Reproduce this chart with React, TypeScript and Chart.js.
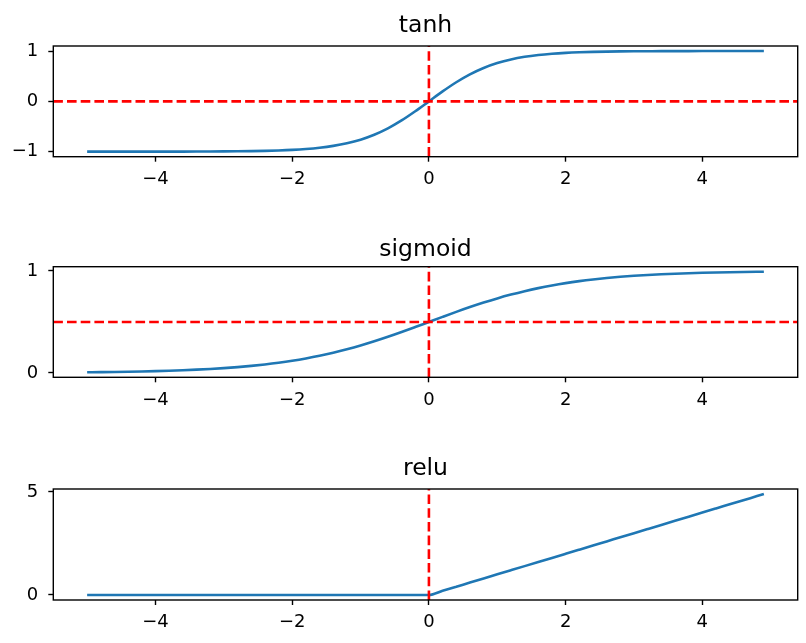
import React, { useEffect, useRef } from "react";
import { Chart, registerables } from "chart.js";

Chart.register(...registerables);

// ---------- data ----------
const xValues = [
  -5, -4.8, -4.6, -4.4, -4.2, -4, -3.8, -3.6, -3.4, -3.2, -3, -2.8, -2.6, -2.4, -2.2, -2, -1.8,
  -1.6, -1.4, -1.2, -1, -0.8, -0.6, -0.4, -0.2, 0, 0.2, 0.4, 0.6, 0.8, 1, 1.2, 1.4, 1.6, 1.8, 2,
  2.2, 2.4, 2.6, 2.8, 3, 3.2, 3.4, 3.6, 3.8, 4, 4.2, 4.4, 4.6, 4.8, 4.9,
];

const tanhValues = [
  -0.9999, -0.9999, -0.9998, -0.9997, -0.9996, -0.9993, -0.999, -0.9985, -0.9978, -0.9967,
  -0.9951, -0.9926, -0.989, -0.9837, -0.9757, -0.964, -0.9468, -0.9217, -0.8854, -0.8337,
  -0.7616, -0.664, -0.537, -0.3799, -0.1974, 0, 0.1974, 0.3799, 0.537, 0.664, 0.7616, 0.8337,
  0.8854, 0.9217, 0.9468, 0.964, 0.9757, 0.9837, 0.989, 0.9926, 0.9951, 0.9967, 0.9978, 0.9985,
  0.999, 0.9993, 0.9996, 0.9997, 0.9998, 0.9999, 0.9999,
];

const sigmoidValues = [
  0.0067, 0.0082, 0.0099, 0.0121, 0.0148, 0.018, 0.0219, 0.0266, 0.0323, 0.0392, 0.0474, 0.0573,
  0.0691, 0.0832, 0.0998, 0.1192, 0.1419, 0.168, 0.1978, 0.2315, 0.2689, 0.31, 0.3543, 0.4013,
  0.4502, 0.5, 0.5498, 0.5987, 0.6457, 0.69, 0.7311, 0.7685, 0.8022, 0.832, 0.8581, 0.8808,
  0.9002, 0.9168, 0.9309, 0.9427, 0.9526, 0.9608, 0.9677, 0.9734, 0.9781, 0.982, 0.9852, 0.9879,
  0.9901, 0.9918, 0.9926,
];

const reluValues = [
  0, 0, 0, 0, 0, 0, 0, 0, 0, 0, 0, 0, 0, 0, 0, 0, 0, 0, 0, 0, 0, 0, 0, 0, 0, 0, 0.2, 0.4, 0.6,
  0.8, 1, 1.2, 1.4, 1.6, 1.8, 2, 2.2, 2.4, 2.6, 2.8, 3, 3.2, 3.4, 3.6, 3.8, 4, 4.2, 4.4, 4.6, 4.8,
  4.9,
];

const xTicks = [-4, -2, 0, 2, 4];
const tanhYTicks = [-1, 0, 1];
const sigmoidYTicks = [0, 1];
const reluYTicks = [0, 5];

const titles = ["tanh", "sigmoid", "relu"];

// ---------- styling / layout ----------
const W = 806;
const FONT = '"DejaVu Sans", sans-serif';
const BLUE = "#1f77b4";
const LW = 2.6;
const FRAME_W = 1.4;

const fmt = (v: number) => (v < 0 ? "\u2212" + Math.abs(v) : String(v));

type PanelProps = {
  title: string;
  ys: number[];
  yTicks: number[];
  yMin: number;
  yMax: number;
  hLine: number | null;
  top: number;
  height: number;
  areaTop: number;
  areaBottom: number;
  titleOffset: number;
};

function Panel(p: PanelProps) {
  const ref = useRef<HTMLCanvasElement | null>(null);
  useEffect(() => {
    const canvas = ref.current;
    if (!canvas) return;
    const areaLeft = 53.3;
    const areaRight = 797.7;

    const overlay = {
      id: "overlay",
      afterDatasetsDraw(chart: any) {
        const { ctx, chartArea, scales } = chart;
        ctx.save();
        ctx.strokeStyle = "#ff0000";
        ctx.lineWidth = LW;
        ctx.lineCap = "butt";
        ctx.setLineDash([9.6, 4.1]);
        if (p.hLine !== null) {
          const y = scales.y.getPixelForValue(p.hLine);
          ctx.beginPath();
          ctx.moveTo(chartArea.left, y);
          ctx.lineTo(chartArea.right, y);
          ctx.stroke();
        }
        const x = scales.x.getPixelForValue(0);
        ctx.beginPath();
        ctx.moveTo(x, chartArea.bottom);
        ctx.lineTo(x, chartArea.top);
        ctx.stroke();
        ctx.restore();
      },
      afterDraw(chart: any) {
        const { ctx, chartArea } = chart;
        ctx.save();
        ctx.strokeStyle = "#000";
        ctx.lineWidth = FRAME_W;
        ctx.setLineDash([]);
        ctx.strokeRect(
          chartArea.left,
          chartArea.top,
          chartArea.right - chartArea.left,
          chartArea.bottom - chartArea.top
        );
        ctx.fillStyle = "#000";
        ctx.font = `23.5px ${FONT}`;
        ctx.textAlign = "center";
        ctx.textBaseline = "alphabetic";
        ctx.fillText(p.title, (chartArea.left + chartArea.right) / 2, chartArea.top - p.titleOffset);
        ctx.restore();
      },
    };

    const tickFont = { family: FONT, size: 18 };

    const chart = new Chart(canvas, {
      type: "scatter",
      data: {
        datasets: [
          {
            data: xValues.map((x, i) => ({ x, y: p.ys[i] })),
            showLine: true,
            borderColor: BLUE,
            borderWidth: LW,
            pointRadius: 0,
            pointHoverRadius: 0,
            cubicInterpolationMode: "monotone",
            fill: false,
          },
        ],
      },
      options: {
        responsive: false,
        maintainAspectRatio: false,
        animation: false,
        events: [],
        layout: {
          padding: { left: 0, right: W - areaRight, top: p.areaTop, bottom: 0 },
        },
        plugins: {
          legend: { display: false },
          title: { display: false },
          tooltip: { enabled: false },
        },
        scales: {
          x: {
            type: "linear",
            min: -5.495,
            max: 5.395,
            afterBuildTicks: (s: any) => {
              s.ticks = xTicks.map((v) => ({ value: v }));
            },
            afterFit: (s: any) => {
              s.height = p.height - p.areaBottom;
            },
            grid: {
              display: true,
              drawOnChartArea: false,
              drawTicks: true,
              tickLength: 5,
              tickWidth: FRAME_W,
              tickColor: "#000",
            },
            border: { display: false },
            ticks: {
              color: "#000",
              font: tickFont,
              padding: 7,
              maxRotation: 0,
              autoSkip: false,
              callback: (v: any) => fmt(Number(v)),
            },
          },
          y: {
            type: "linear",
            min: p.yMin,
            max: p.yMax,
            afterBuildTicks: (s: any) => {
              s.ticks = p.yTicks.map((v) => ({ value: v }));
            },
            afterFit: (s: any) => {
              s.width = areaLeft;
            },
            grid: {
              display: true,
              drawOnChartArea: false,
              drawTicks: true,
              tickLength: 5,
              tickWidth: FRAME_W,
              tickColor: "#000",
            },
            border: { display: false },
            ticks: {
              color: "#000",
              font: tickFont,
              padding: 10,
              autoSkip: false,
              callback: (v: any) => fmt(Number(v)),
            },
          },
        },
      },
      plugins: [overlay],
    } as any);
    return () => chart.destroy();
  }, []);

  return (
    <canvas
      ref={ref}
      width={W}
      height={p.height}
      style={{ position: "absolute", left: 0, top: p.top, width: W, height: p.height, display: "block" }}
    />
  );
}

export default function App() {
  return (
    <div
      style={{
        position: "absolute",
        left: 0,
        top: 0,
        width: W,
        height: 643,
        background: "#fff",
        overflow: "hidden",
      }}
    >
      <Panel
        title={titles[0]}
        ys={tanhValues}
        yTicks={tanhYTicks}
        yMin={-1.1}
        yMax={1.1}
        hLine={0}
        top={0}
        height={222}
        areaTop={46}
        areaBottom={156.7}
        titleOffset={14.5}
      />
      <Panel
        title={titles[1]}
        ys={sigmoidValues}
        yTicks={sigmoidYTicks}
        yMin={-0.0426}
        yMax={1.0419}
        hLine={0.5}
        top={222}
        height={222}
        areaTop={44.7}
        areaBottom={155.3}
        titleOffset={11}
      />
      <Panel
        title={titles[2]}
        ys={reluValues}
        yTicks={reluYTicks}
        yMin={-0.245}
        yMax={5.145}
        hLine={null}
        top={444}
        height={199}
        areaTop={45}
        areaBottom={156}
        titleOffset={14}
      />
    </div>
  );
}
